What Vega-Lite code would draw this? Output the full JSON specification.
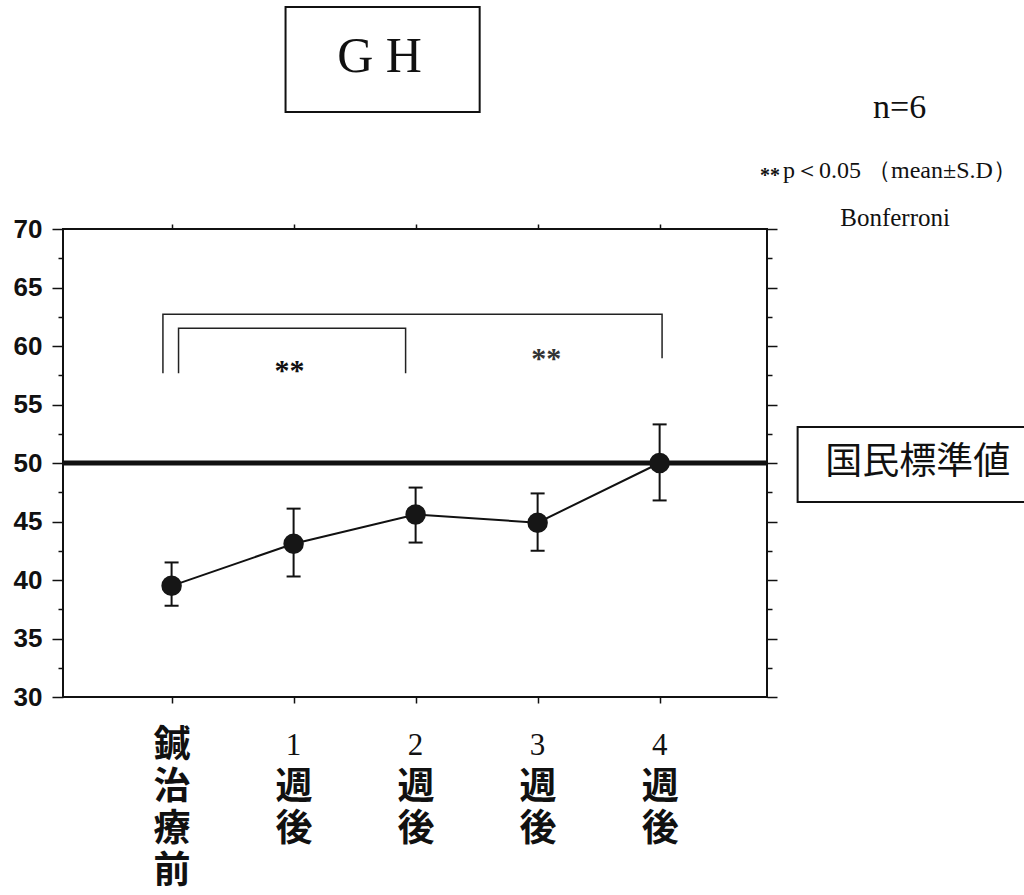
{
  "$schema": "https://vega.github.io/schema/vega-lite/v6.json",
  "width": 704,
  "height": 468,
  "autosize": {"type": "none"},
  "padding": {"left": 63, "top": 229, "right": 257, "bottom": 198},
  "background": "white",
  "config": {
    "view": {"stroke": "#111", "strokeWidth": 2},
    "axis": {"grid": false, "domain": false, "title": null, "tickColor": "#111", "tickWidth": 1.5, "labelColor": "#111"}
  },
  "data": {
    "values": [
      {"idx": 0, "period": "鍼治療前", "wk": "", "mean": 39.5, "lo": 37.8, "hi": 41.5},
      {"idx": 1, "period": "1週後", "wk": "1", "mean": 43.1, "lo": 40.3, "hi": 46.1},
      {"idx": 2, "period": "2週後", "wk": "2", "mean": 45.6, "lo": 43.2, "hi": 47.9},
      {"idx": 3, "period": "3週後", "wk": "3", "mean": 44.9, "lo": 42.5, "hi": 47.4},
      {"idx": 4, "period": "4週後", "wk": "4", "mean": 50.0, "lo": 46.8, "hi": 53.3}
    ]
  },
  "resolve": {"axis": {"x": "independent", "y": "independent"}},
  "layer": [
    {
      "data": {"values": [{}]},
      "mark": {"type": "rule", "strokeWidth": 5, "color": "#111"},
      "encoding": {
        "y": {"datum": 50, "type": "quantitative", "scale": {"domain": [30, 70], "nice": false, "zero": false}, "axis": null}
      }
    },
    {
      "data": {
        "values": [
          {"b": "A", "o": 1, "bx": -0.071, "by": 57.67},
          {"b": "A", "o": 2, "bx": -0.071, "by": 62.71},
          {"b": "A", "o": 3, "bx": 4.02, "by": 62.71},
          {"b": "A", "o": 4, "bx": 4.02, "by": 58.95},
          {"b": "B", "o": 1, "bx": 0.057, "by": 57.67},
          {"b": "B", "o": 2, "bx": 0.057, "by": 61.51},
          {"b": "B", "o": 3, "bx": 1.918, "by": 61.51},
          {"b": "B", "o": 4, "bx": 1.918, "by": 57.67}
        ]
      },
      "mark": {"type": "line", "strokeWidth": 1.5, "color": "#222"},
      "encoding": {
        "x": {"field": "bx", "type": "quantitative", "scale": {"domain": [-0.89, 4.88], "nice": false, "zero": false}, "axis": null},
        "y": {"field": "by", "type": "quantitative", "scale": {"domain": [30, 70], "nice": false, "zero": false}, "axis": null},
        "detail": {"field": "b"},
        "order": {"field": "o"}
      }
    },
    {
      "mark": {"type": "rule", "strokeWidth": 2, "color": "#111"},
      "encoding": {
        "x": {"field": "idx", "type": "quantitative", "scale": {"domain": [-0.89, 4.88], "nice": false, "zero": false}, "axis": null},
        "y": {"field": "lo", "type": "quantitative", "scale": {"domain": [30, 70], "nice": false, "zero": false}, "axis": null},
        "y2": {"field": "hi"}
      }
    },
    {
      "mark": {"type": "tick", "orient": "horizontal", "size": 14, "thickness": 2, "color": "#111", "opacity": 1},
      "encoding": {
        "x": {"field": "idx", "type": "quantitative", "scale": {"domain": [-0.89, 4.88], "nice": false, "zero": false}, "axis": null},
        "y": {"field": "lo", "type": "quantitative", "scale": {"domain": [30, 70], "nice": false, "zero": false}, "axis": null}
      }
    },
    {
      "mark": {"type": "tick", "orient": "horizontal", "size": 14, "thickness": 2, "color": "#111", "opacity": 1},
      "encoding": {
        "x": {"field": "idx", "type": "quantitative", "scale": {"domain": [-0.89, 4.88], "nice": false, "zero": false}, "axis": null},
        "y": {"field": "hi", "type": "quantitative", "scale": {"domain": [30, 70], "nice": false, "zero": false}, "axis": null}
      }
    },
    {
      "mark": {"type": "line", "strokeWidth": 2, "color": "#111"},
      "encoding": {
        "x": {
          "field": "idx", "type": "quantitative",
          "scale": {"domain": [-0.89, 4.88], "nice": false, "zero": false},
          "axis": {
            "orient": "bottom",
            "values": [0, 1, 2, 3, 4],
            "tickSize": 6,
            "labelPadding": 24,
            "labelFont": "Noto Sans CJK JP",
            "labelFontWeight": "bold",
            "labelFontSize": 37,
            "labelLineHeight": 42,
            "labelBaseline": "top",
            "labelExpr": "split(['鍼|治|療|前',' |週|後',' |週|後',' |週|後',' |週|後'][datum.value], '|')"
          }
        },
        "y": {
          "field": "mean", "type": "quantitative",
          "scale": {"domain": [30, 70], "nice": false, "zero": false},
          "axis": {
            "orient": "left",
            "values": [30, 32.5, 35, 37.5, 40, 42.5, 45, 47.5, 50, 52.5, 55, 57.5, 60, 62.5, 65, 67.5, 70],
            "tickSize": {"condition": {"test": "datum.value % 5 === 0", "value": 11}, "value": 5},
            "labelPadding": 10,
            "labelFont": "Liberation Sans",
            "labelFontWeight": "bold",
            "labelFontSize": 26,
            "labelExpr": "datum.value % 5 === 0 ? datum.label : ''"
          }
        }
      }
    },
    {
      "mark": {"type": "text", "font": "Liberation Serif", "fontSize": 31, "align": "center", "baseline": "middle", "color": "#111"},
      "encoding": {
        "x": {"field": "idx", "type": "quantitative", "scale": {"domain": [-0.89, 4.88], "nice": false, "zero": false}, "axis": null},
        "y": {"datum": 25.85, "type": "quantitative", "scale": {"domain": [30, 70], "nice": false, "zero": false}, "axis": null},
        "text": {"field": "wk"}
      }
    },
    {
      "mark": {"type": "circle", "size": 420, "color": "#161616", "opacity": 1},
      "encoding": {
        "x": {
          "field": "idx", "type": "quantitative",
          "scale": {"domain": [-0.89, 4.88], "nice": false, "zero": false},
          "axis": {"orient": "top", "values": [0, 1, 2, 3, 4], "tickSize": 5, "labels": false}
        },
        "y": {
          "field": "mean", "type": "quantitative",
          "scale": {"domain": [30, 70], "nice": false, "zero": false},
          "axis": {
            "orient": "right",
            "values": [30, 32.5, 35, 37.5, 40, 42.5, 45, 47.5, 50, 52.5, 55, 57.5, 60, 62.5, 65, 67.5, 70],
            "tickSize": {"condition": {"test": "datum.value % 5 === 0", "value": 10}, "value": 5},
            "labels": false
          }
        }
      }
    },
    {
      "data": {"values": [{}]},
      "mark": {"type": "rect", "fill": "white", "stroke": "#111", "strokeWidth": 2},
      "encoding": {
        "x": {"datum": 0.934, "type": "quantitative", "scale": {"domain": [-0.89, 4.88], "nice": false, "zero": false}, "axis": null},
        "x2": {"datum": 2.525},
        "y": {"datum": 88.97, "type": "quantitative", "scale": {"domain": [30, 70], "nice": false, "zero": false}, "axis": null},
        "y2": {"datum": 80.0}
      }
    },
    {
      "data": {"values": [{}]},
      "mark": {"type": "text", "text": "G H", "font": "Liberation Serif", "fontSize": 50, "align": "center", "baseline": "middle", "color": "#111"},
      "encoding": {
        "x": {"datum": 1.705, "type": "quantitative", "scale": {"domain": [-0.89, 4.88], "nice": false, "zero": false}, "axis": null},
        "y": {"datum": 84.7, "type": "quantitative", "scale": {"domain": [30, 70], "nice": false, "zero": false}, "axis": null}
      }
    },
    {
      "data": {"values": [{}]},
      "mark": {"type": "text", "text": "n=6", "font": "Liberation Serif", "fontSize": 34, "align": "center", "baseline": "middle", "color": "#111"},
      "encoding": {
        "x": {"datum": 5.967, "type": "quantitative", "scale": {"domain": [-0.89, 4.88], "nice": false, "zero": false}, "axis": null},
        "y": {"datum": 80.34, "type": "quantitative", "scale": {"domain": [30, 70], "nice": false, "zero": false}, "axis": null}
      }
    },
    {
      "data": {"values": [{}]},
      "mark": {"type": "text", "text": "**", "font": "Liberation Serif", "fontSize": 20, "fontWeight": "bold", "align": "right", "baseline": "middle", "color": "#111"},
      "encoding": {
        "x": {"datum": 4.987, "type": "quantitative", "scale": {"domain": [-0.89, 4.88], "nice": false, "zero": false}, "axis": null},
        "y": {"datum": 74.55, "type": "quantitative", "scale": {"domain": [30, 70], "nice": false, "zero": false}, "axis": null}
      }
    },
    {
      "data": {"values": [{}]},
      "mark": {"type": "text", "text": "p＜0.05  （mean±S.D）", "font": "Liberation Serif", "fontSize": 24, "align": "left", "baseline": "middle", "color": "#111"},
      "encoding": {
        "x": {"datum": 5.011, "type": "quantitative", "scale": {"domain": [-0.89, 4.88], "nice": false, "zero": false}, "axis": null},
        "y": {"datum": 75.0, "type": "quantitative", "scale": {"domain": [30, 70], "nice": false, "zero": false}, "axis": null}
      }
    },
    {
      "data": {"values": [{}]},
      "mark": {"type": "text", "text": "Bonferroni", "font": "Liberation Serif", "fontSize": 25, "align": "center", "baseline": "middle", "color": "#111"},
      "encoding": {
        "x": {"datum": 5.93, "type": "quantitative", "scale": {"domain": [-0.89, 4.88], "nice": false, "zero": false}, "axis": null},
        "y": {"datum": 70.94, "type": "quantitative", "scale": {"domain": [30, 70], "nice": false, "zero": false}, "axis": null}
      }
    },
    {
      "data": {"values": [{}]},
      "mark": {"type": "rect", "fill": "white", "stroke": "#111", "strokeWidth": 2},
      "encoding": {
        "x": {"datum": 5.131, "type": "quantitative", "scale": {"domain": [-0.89, 4.88], "nice": false, "zero": false}, "axis": null},
        "x2": {"datum": 7.1},
        "y": {"datum": 53.08, "type": "quantitative", "scale": {"domain": [30, 70], "nice": false, "zero": false}, "axis": null},
        "y2": {"datum": 46.67}
      }
    },
    {
      "data": {"values": [{}]},
      "mark": {"type": "text", "text": "国民標準値", "font": "Noto Sans CJK JP", "fontSize": 37, "align": "center", "baseline": "middle", "color": "#111"},
      "encoding": {
        "x": {"datum": 6.115, "type": "quantitative", "scale": {"domain": [-0.89, 4.88], "nice": false, "zero": false}, "axis": null},
        "y": {"datum": 50.0, "type": "quantitative", "scale": {"domain": [30, 70], "nice": false, "zero": false}, "axis": null}
      }
    },
    {
      "data": {"values": [{}]},
      "mark": {"type": "text", "text": "**", "font": "Liberation Serif", "fontSize": 30, "fontWeight": "bold", "align": "center", "baseline": "middle", "color": "#111"},
      "encoding": {
        "x": {"datum": 0.967, "type": "quantitative", "scale": {"domain": [-0.89, 4.88], "nice": false, "zero": false}, "axis": null},
        "y": {"datum": 57.9, "type": "quantitative", "scale": {"domain": [30, 70], "nice": false, "zero": false}, "axis": null}
      }
    },
    {
      "data": {"values": [{}]},
      "mark": {"type": "text", "text": "**", "font": "Liberation Serif", "fontSize": 30, "fontWeight": "bold", "align": "center", "baseline": "middle", "color": "#333"},
      "encoding": {
        "x": {"datum": 3.07, "type": "quantitative", "scale": {"domain": [-0.89, 4.88], "nice": false, "zero": false}, "axis": null},
        "y": {"datum": 58.9, "type": "quantitative", "scale": {"domain": [30, 70], "nice": false, "zero": false}, "axis": null}
      }
    }
  ]
}
